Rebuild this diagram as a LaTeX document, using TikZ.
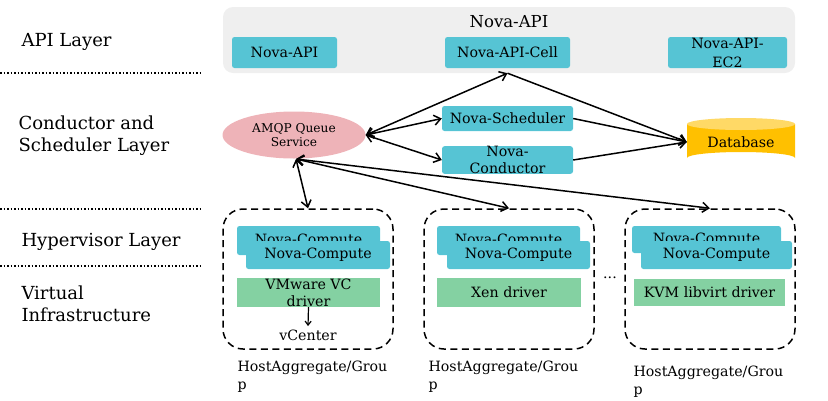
\documentclass[tikz,border=0pt]{standalone}
\usepackage{fontspec}
\setmainfont{DejaVu Serif}
\usetikzlibrary{arrows.meta,shapes.geometric,calc}
\definecolor{cyanbox}{HTML}{56C4D4}
\definecolor{greenbox}{HTML}{84D1A2}
\definecolor{pinkell}{HTML}{EEB3B8}
\definecolor{graybg}{HTML}{EFEFEF}
\definecolor{dbbody}{HTML}{FFC000}
\definecolor{dbtop}{HTML}{FFD966}
\tikzset{
  cbox/.style={fill=cyanbox,rounded corners=2.5pt,inner sep=0pt,font=\fontsize{14.2}{16}\selectfont,align=center},
  gbox/.style={fill=greenbox,inner sep=0pt,font=\fontsize{14.2}{16}\selectfont,align=center},
  layerlbl/.style={anchor=west,align=left,font=\fontsize{18}{22}\selectfont},
  grplbl/.style={anchor=north west,align=left,font=\fontsize{14.2}{18}\selectfont},
  dashbox/.style={draw,line width=1.5pt,dash pattern=on 7pt off 4.5pt,rounded corners=20pt,inner sep=0pt},
  sepline/.style={dotted,line width=1.5pt},
  arr/.style={line width=1.5pt,-{Straight Barb[length=6.5pt,width=10pt]}},
  darr/.style={line width=1.5pt,{Straight Barb[length=6.5pt,width=10pt]}-{Straight Barb[length=6.5pt,width=10pt]}},
}
\begin{document}
\begin{tikzpicture}[x=1pt,y=-1pt]
\useasboundingbox (0,0) rectangle (828,400);
% layer labels
\node[layerlbl] (lapi) at (18,42) {API Layer};
\node[layerlbl] (lcond) at (15,136) {Conductor and\\Scheduler Layer};
\node[layerlbl] (lhyp) at (18,242) {Hypervisor Layer};
\node[layerlbl] (lvirt) at (18,304) {Virtual\\Infrastructure};
\coordinate (s1a) at (0,73); \coordinate (s1b) at (200,73);
\coordinate (s2a) at (0,209); \coordinate (s2b) at (200,209);
\coordinate (s3a) at (0,266); \coordinate (s3b) at (200,266);
\draw[sepline] (s1a) -- (s1b);
\draw[sepline] (s2a) -- (s2b);
\draw[sepline] (s3a) -- (s3b);
% API group
\node[fill=graybg,rounded corners=10pt,minimum width=572pt,minimum height=66pt,inner sep=0pt] (apigrp) at (509,40) {};
\node[font=\fontsize{16.5}{18}\selectfont] (apititle) at (509,22) {Nova-API};
\node[cbox,minimum width=105pt,minimum height=31pt] (napi) at (284.5,52.5) {Nova-API};
\node[cbox,minimum width=125pt,minimum height=31pt] (ncell) at (507.5,52.5) {Nova-API-Cell};
\node[cbox,minimum width=119pt,minimum height=31pt,font=\fontsize{14.2}{19}\selectfont] (nec2) at (727.5,52.5) {Nova-API-\\EC2};
\coordinate (cellin) at (ncell.south |- apigrp.south);
% conductor layer
\node[ellipse,fill=pinkell,minimum width=143pt,minimum height=47pt,inner sep=0pt,align=center,font=\fontsize{12.2}{14}\selectfont] (amqp) at (294,135) {AMQP Queue\\Service};
\node[cbox,minimum width=131pt,minimum height=25pt] (sched) at (507.5,118.5) {Nova-Scheduler};
\node[cbox,minimum width=131pt,minimum height=25pt,font=\fontsize{14.2}{17}\selectfont] (cond) at (507.5,160) {Nova-\\Conductor};
% database
\fill[dbbody] (687,124) -- (687,158) arc[start angle=180,end angle=360,x radius=54,y radius=6] -- (795,124) -- cycle;
\fill[dbtop] (741,124) ellipse[x radius=54,y radius=6];
\node[font=\fontsize{14.2}{16}\selectfont,minimum width=108pt,minimum height=47pt,inner sep=0pt] (db) at (741,142) {Database};
% arrows conductor layer
\draw[darr] (amqp.east) -- (cellin);
\draw[darr] (amqp.east) -- (sched.west);
\draw[darr] (amqp.east) -- (cond.west);
\draw[arr] (cellin) -- (db.west);
\draw[arr] (sched.east) -- (db.west);
\draw[arr] (cond.east) -- (db.west);
% hypervisor groups
\node[dashbox,minimum width=170pt,minimum height=140pt] (g1) at (308,279) {};
\node[dashbox,minimum width=170pt,minimum height=140pt] (g2) at (509,279) {};
\node[dashbox,minimum width=170pt,minimum height=140pt] (g3) at (710,279) {};
\coordinate (amqpb) at (296,159);
\draw[darr] (amqpb) -- (g1.north);
\draw[darr] (amqpb) -- (g2.north);
\draw[darr] (amqpb) -- (g3.north);
% group 1
\node[cbox,minimum width=143pt,minimum height=29pt] (c1b) at (308.5,240.5) {\raisebox{1pt}{Nova-Compute}};
\node[cbox,minimum width=144pt,minimum height=28pt] (c1f) at (318,255) {Nova-Compute};
\node[gbox,minimum width=143pt,minimum height=29pt,font=\fontsize{14.2}{17}\selectfont] (d1) at (308.5,292.5) {VMware VC\\driver};
\node[font=\fontsize{14.2}{16}\selectfont] (vc) at (308,335) {vCenter};
\draw[line width=1.2pt,-{Straight Barb[length=4pt,width=6pt]}] (d1.south) -- (vc.north);
% group 2
\node[cbox,minimum width=143pt,minimum height=29pt] (c2b) at (508.5,240.5) {\raisebox{1pt}{Nova-Compute}};
\node[cbox,minimum width=143pt,minimum height=28pt] (c2f) at (518.5,255) {Nova-Compute};
\node[gbox,minimum width=144pt,minimum height=29pt] (d2) at (509,292.5) {Xen driver};
% group 3
\node[cbox,minimum width=149pt,minimum height=27pt] (c3b) at (706.5,239.5) {\raisebox{1pt}{Nova-Compute}};
\node[cbox,minimum width=151pt,minimum height=28pt] (c3f) at (716.5,255) {Nova-Compute};
\node[gbox,minimum width=151pt,minimum height=27pt] (d3) at (709.5,292.5) {KVM libvirt driver};
\node[font=\fontsize{14.2}{16}\selectfont] (dots) at (610,278) {...};
% group labels
\node[grplbl] (h1) at (234,357) {HostAggregate/Grou\\p};
\node[grplbl] (h2) at (425,357) {HostAggregate/Grou\\p};
\node[grplbl] (h3) at (630,362) {HostAggregate/Grou\\p};
\end{tikzpicture}
\end{document}
